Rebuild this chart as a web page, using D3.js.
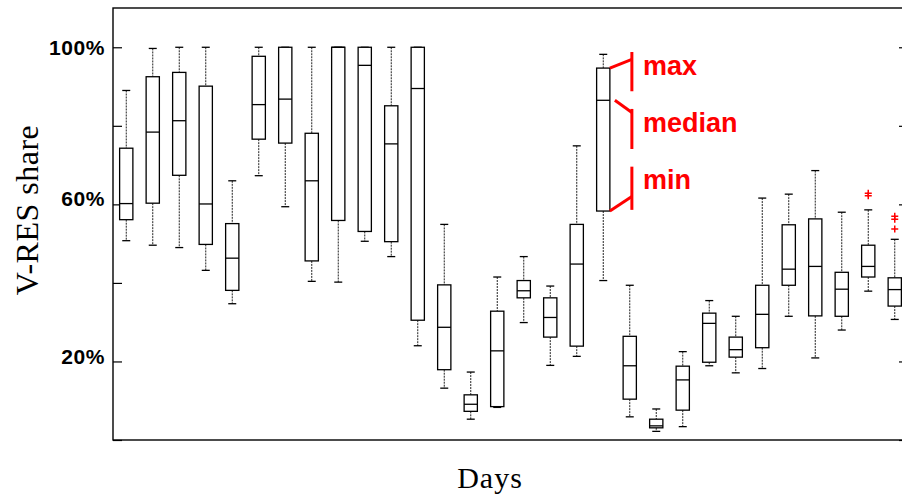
<!DOCTYPE html>
<html>
<head>
<meta charset="utf-8">
<script src="https://cdn.jsdelivr.net/npm/d3@7"></script>
<style>
  body { margin: 0; background: #fff; }
  text { font-family: "Liberation Sans", Arial, sans-serif; }
</style>
</head>
<body>
<svg id="chart" width="902" height="496"></svg>
<script>
// one box per day, values in % of V-RES share
var days = [1, 2, 3, 4, 5, 6, 7, 8, 9, 10, 11, 12, 13, 14, 15, 16, 17, 18, 19, 20, 21, 22, 23, 24, 25, 26, 27, 28, 29, 30]
var whiskerHigh = [89.0, 99.7, 100, 100, 66.0, 100, 100, 100, 100, 100, 100, 100, 54.9, 17.3, 41.5, 46.7, 39.2, 74.9, 98.2, 39.4, 7.9, 22.5, 35.5, 31.5, 61.6, 62.6, 68.6, 58.0, 58.6, 51.1]
var upperQ = [74.3, 92.5, 93.6, 90.1, 55.1, 97.7, 100, 78.1, 100, 100, 85.1, 100, 39.5, 11.5, 32.8, 40.6, 36.2, 54.9, 94.7, 26.4, 5.3, 18.8, 32.3, 26.2, 39.4, 54.8, 56.3, 42.7, 49.6, 41.3]
var medians = [60.2, 78.4, 81.3, 60.1, 46.3, 85.4, 86.8, 66.0, 100, 95.4, 75.4, 89.5, 28.7, 9.1, 22.7, 38.0, 31.2, 44.8, 86.5, 18.9, 3.6, 15.3, 29.7, 23.0, 32.0, 43.5, 44.2, 38.4, 44.2, 38.3]
var lowerQ = [56.1, 60.3, 67.4, 49.8, 38.1, 76.6, 75.6, 45.6, 55.9, 53.1, 50.5, 30.5, 17.9, 7.3, 8.5, 36.2, 26.2, 23.9, 58.3, 10.4, 3.1, 7.6, 19.8, 21.1, 23.5, 39.4, 31.6, 31.5, 41.5, 34.1]
var whiskerLow = [50.75, 49.6, 49.0, 43.2, 34.7, 67.3, 59.4, 40.4, 40.2, 50.6, 46.7, 24.0, 13.2, 5.3, 8.3, 29.9, 19.0, 21.3, 40.6, 5.9, 2.2, 3.4, 18.9, 17.1, 18.2, 31.5, 20.9, 28.0, 37.9, 30.7]
var outlierDays = [29, 29, 30, 30, 30]
var outlierValues = [62.8, 62.2, 57.0, 56.2, 53.7]

var yTicks = [0, 20, 40, 60, 80, 100]
var yLabelled = [20, 60, 100]

// red call-outs on day 19
var noteDay = 19
var noteLabels = ["max", "median", "min"]
var noteFrom = [94.7, 86.5, 58.3]
var noteTo = [96.9, 83.4, 62.0]
var noteTop = [98.8, 84.3, 69.6]
var noteBottom = [88.8, 74.1, 58.6]
var noteBase = [93.0, 78.3, 63.8]

var svg = d3.select("#chart"),
    margin = { top: 8, left: 113, bottom: 56, right: -6 },
    width = 902,
    height = 496;

var x = d3.scaleBand()
    .domain(days)
    .range([margin.left, width - margin.right])
    .paddingInner(0.5)
    .paddingOuter(0.25)

var y = d3.scaleLinear()
    .domain([0, 110])
    .range([height - margin.bottom, margin.top])

var rows = days.map((d, i) => ({
    day: d, hi: whiskerHigh[i], q3: upperQ[i], med: medians[i], q1: lowerQ[i], lo: whiskerLow[i]
}))

// frame
svg.append("rect")
    .attr("x", margin.left)
    .attr("y", margin.top)
    .attr("width", width - margin.right - margin.left)
    .attr("height", height - margin.bottom - margin.top)
    .attr("fill", "none")
    .attr("stroke", "#000")
    .attr("stroke-width", 1.4)

// left axis, ticks pointing in
var left = svg.append("g")
    .attr("transform", `translate(${margin.left},0)`)
    .call(d3.axisLeft(y).tickValues(yTicks).tickSizeInner(-9).tickSizeOuter(0).tickPadding(8)
        .tickFormat(d => yLabelled.includes(d) ? d + "%" : ""))
left.select(".domain").remove()
left.selectAll("line").attr("stroke", "#000").attr("stroke-width", 1.2)
left.selectAll("text")
    .attr("fill", "#000")
    .style("font-size", "21px")
    .style("font-weight", "bold")
    .style("letter-spacing", "0.6px")
    .attr("dy", d => d == 100 ? "0.34em" : d == 60 ? "0.06em" : "0.1em")

var right = svg.append("g")
    .attr("transform", `translate(${width - margin.right},0)`)
    .call(d3.axisRight(y).tickValues(yTicks).tickSizeInner(-9).tickSizeOuter(0).tickFormat(""))
right.select(".domain").remove()
right.selectAll("line").attr("stroke", "#000").attr("stroke-width", 1.2)

// boxes
var boxes = svg.selectAll("g.box")
    .data(rows)
    .enter().append("g")
    .attr("class", "box")
    .attr("transform", d => `translate(${x(d.day) + x.bandwidth() / 2},0)`)

boxes.append("line")
    .attr("y1", d => y(d.hi)).attr("y2", d => y(d.q3))
    .attr("stroke", "#222").attr("stroke-dasharray", "2,1")
boxes.append("line")
    .attr("y1", d => y(d.q1)).attr("y2", d => y(d.lo))
    .attr("stroke", "#222").attr("stroke-dasharray", "2,1")

boxes.append("line")
    .attr("x1", -4).attr("x2", 4)
    .attr("y1", d => y(d.hi)).attr("y2", d => y(d.hi))
    .attr("stroke", "#000").attr("stroke-width", 1.3)
boxes.append("line")
    .attr("x1", -4).attr("x2", 4)
    .attr("y1", d => y(d.lo)).attr("y2", d => y(d.lo))
    .attr("stroke", "#000").attr("stroke-width", 1.3)

boxes.append("rect")
    .attr("x", -x.bandwidth() / 2)
    .attr("width", x.bandwidth())
    .attr("y", d => y(d.q3))
    .attr("height", d => y(d.q1) - y(d.q3))
    .attr("fill", "#fff")
    .attr("stroke", "#000")
    .attr("stroke-width", 1.3)

boxes.append("line")
    .attr("x1", -x.bandwidth() / 2).attr("x2", x.bandwidth() / 2)
    .attr("y1", d => y(d.med)).attr("y2", d => y(d.med))
    .attr("stroke", "#000").attr("stroke-width", 1.3)

// outliers
svg.selectAll("path.outlier")
    .data(outlierDays.map((d, i) => ({ day: d, v: outlierValues[i] })))
    .enter().append("path")
    .attr("class", "outlier")
    .attr("d", d => {
        var cx = x(d.day) + x.bandwidth() / 2, cy = y(d.v)
        return `M${cx - 3.5},${cy}H${cx + 3.5}M${cx},${cy - 3.5}V${cy + 3.5}`
    })
    .attr("stroke", "#f00")
    .attr("stroke-width", 1.5)

// annotations
var boxRight = x(noteDay) + x.bandwidth()
var bx = boxRight + 22
var notes = svg.selectAll("g.note")
    .data(noteLabels)
    .enter().append("g")
    .attr("class", "note")

notes.append("line")
    .attr("x1", (d, i) => i == 1 ? boxRight + 5 : boxRight)
    .attr("y1", (d, i) => y(noteFrom[i]))
    .attr("x2", bx)
    .attr("y2", (d, i) => y(noteTo[i]))
    .attr("stroke", "#f00").attr("stroke-width", 3)
notes.append("line")
    .attr("x1", bx).attr("x2", bx)
    .attr("y1", (d, i) => y(noteTop[i]))
    .attr("y2", (d, i) => y(noteBottom[i]))
    .attr("stroke", "#f00").attr("stroke-width", 3)
notes.append("text")
    .attr("x", bx + 11)
    .attr("y", (d, i) => y(noteBase[i]))
    .attr("fill", "#f00")
    .style("font-size", "27px")
    .style("font-weight", "bold")
    .text(d => d)

// axis titles
svg.append("text")
    .attr("transform", "translate(38,210) rotate(-90)")
    .attr("text-anchor", "middle")
    .style("font-family", "'Liberation Serif', 'Times New Roman', serif")
    .style("font-size", "32px")
    .style("letter-spacing", "0.5px")
    .text("V-RES share")

svg.append("text")
    .attr("x", 490)
    .attr("y", 488)
    .attr("text-anchor", "middle")
    .style("font-family", "'Liberation Serif', 'Times New Roman', serif")
    .style("font-size", "30px")
    .style("letter-spacing", "1px")
    .text("Days")
</script>
</body>
</html>
